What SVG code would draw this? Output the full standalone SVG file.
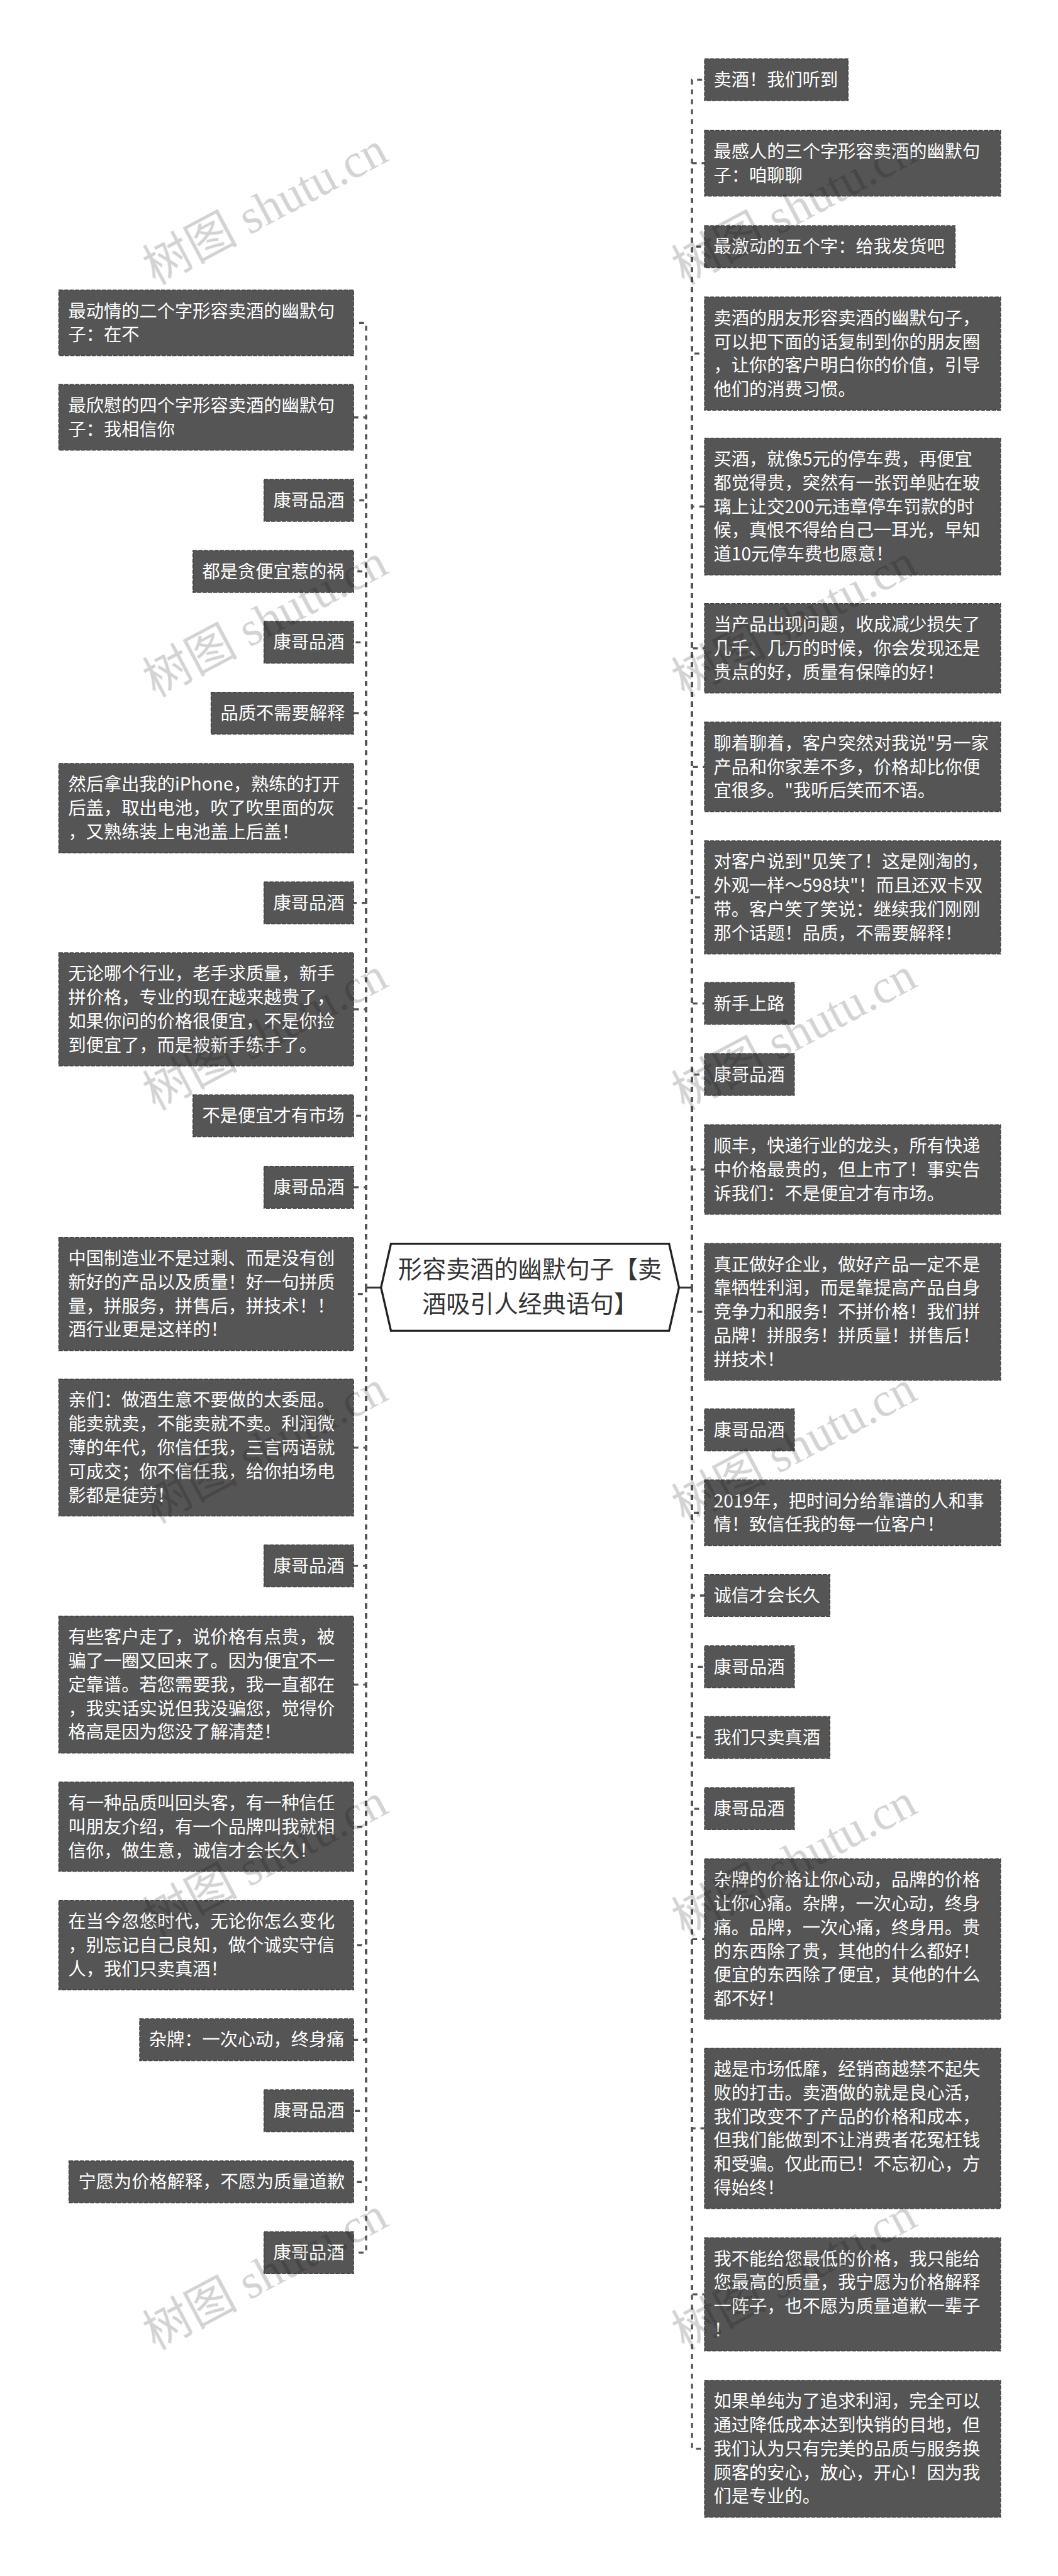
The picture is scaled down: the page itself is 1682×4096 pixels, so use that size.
<svg xmlns="http://www.w3.org/2000/svg" width="1682" height="4096" viewBox="0 0 1682 4096">
<style>
text{font-family:"Noto Sans CJK SC","Noto Sans",sans-serif}
.box{fill:#555;stroke:#444;stroke-width:2.5;stroke-dasharray:10 3}
.t{fill:#fff;font-size:43px}
.root{fill:#fff;stroke:#222;stroke-width:5}
.rt{fill:#333;font-size:58px;text-anchor:middle}
.c{fill:none;stroke:#555;stroke-width:5;stroke-dasharray:12 11.9}
.ul{stroke-dashoffset:2.5}.ur{stroke-dashoffset:4.4}.dn{stroke-dashoffset:0}
.s{fill:none;stroke:#333;stroke-width:4.5}
.wm{font-family:"Liberation Serif","Noto Sans CJK SC",serif;font-size:115px;fill:#d3d3d3}
</style>
<rect width="1682" height="4096" fill="#fff"/>
<g transform="scale(0.657)">
<g id="connectors">
<path class="s" d="M922 3116H886M1643 3116H1675"/>
<path class="c ul" d="M886 3116V781.25H855"/>
<path class="c ul" d="M886 3116V1010.25H855"/>
<path class="c ul" d="M886 3116V1211H855"/>
<path class="c ul" d="M886 3116V1383H855"/>
<path class="c ul" d="M886 3116V1554.5H855"/>
<path class="c ul" d="M886 3116V1726H855"/>
<path class="c ul" d="M886 3116V1956H855"/>
<path class="c ul" d="M886 3116V2185H855"/>
<path class="c ul" d="M886 3116V2442.75H855"/>
<path class="c ul" d="M886 3116V2700.5H855"/>
<path class="c ul" d="M886 3116V2873.5H855"/>
<path class="c dn" d="M886 3116V3131.75H855"/>
<path class="c dn" d="M886 3116V3503.5H855"/>
<path class="c dn" d="M886 3116V3789.5H855"/>
<path class="c dn" d="M886 3116V4077H855"/>
<path class="c dn" d="M886 3116V4421H855"/>
<path class="c dn" d="M886 3116V4707.5H855"/>
<path class="c dn" d="M886 3116V4936.5H855"/>
<path class="c dn" d="M886 3116V5108.5H855"/>
<path class="c dn" d="M886 3116V5280.5H855"/>
<path class="c dn" d="M886 3116V5452H855"/>
<path class="c ur" d="M1674.5 3116V193H1705"/>
<path class="c ur" d="M1674.5 3116V395.25H1705"/>
<path class="c ur" d="M1674.5 3116V597H1705"/>
<path class="c ur" d="M1674.5 3116V855.75H1705"/>
<path class="c ur" d="M1674.5 3116V1226H1705"/>
<path class="c ur" d="M1674.5 3116V1569H1705"/>
<path class="c ur" d="M1674.5 3116V1856H1705"/>
<path class="c ur" d="M1674.5 3116V2171.75H1705"/>
<path class="c ur" d="M1674.5 3116V2428.5H1705"/>
<path class="c ur" d="M1674.5 3116V2600.5H1705"/>
<path class="c ur" d="M1674.5 3116V2830.5H1705"/>
<path class="c dn" d="M1674.5 3116V3175H1705"/>
<path class="c dn" d="M1674.5 3116V3460.5H1705"/>
<path class="c dn" d="M1674.5 3116V3661.25H1705"/>
<path class="c dn" d="M1674.5 3116V3861.5H1705"/>
<path class="c dn" d="M1674.5 3116V4034H1705"/>
<path class="c dn" d="M1674.5 3116V4205H1705"/>
<path class="c dn" d="M1674.5 3116V4377.5H1705"/>
<path class="c dn" d="M1674.5 3116V4693H1705"/>
<path class="c dn" d="M1674.5 3116V5151H1705"/>
<path class="c dn" d="M1674.5 3116V5552.75H1705"/>
<path class="c dn" d="M1674.5 3116V5926.5H1705"/>
</g>
<g id="root">
<polygon class="root" points="946,3010 1619,3010 1643,3116 1619,3221 946,3221 922,3116"/>
<text class="rt" x="1282.5" y="3093">形容卖酒的幽默句子【卖</text>
<text class="rt" x="1282.5" y="3176">酒吸引人经典语句】</text>
</g>
<g id="l1"><rect class="box" x="142.5" y="702" width="713" height="158.5"/><text class="t" x="165" y="768">最动情的二个字形容卖酒的幽默句</text><text class="t" x="165" y="825.5">子：在不</text></g>
<g id="l2"><rect class="box" x="142.5" y="931" width="713" height="158.5"/><text class="t" x="165" y="997">最欣慰的四个字形容卖酒的幽默句</text><text class="t" x="165" y="1054.5">子：我相信你</text></g>
<g id="l3"><rect class="box" x="639" y="1160.5" width="216.5" height="101"/><text class="t" x="661.5" y="1226.5">康哥品酒</text></g>
<g id="l4"><rect class="box" x="467" y="1332.5" width="388.5" height="101"/><text class="t" x="489.5" y="1398.5">都是贪便宜惹的祸</text></g>
<g id="l5"><rect class="box" x="639" y="1504" width="216.5" height="101"/><text class="t" x="661.5" y="1570">康哥品酒</text></g>
<g id="l6"><rect class="box" x="511" y="1675.5" width="344.5" height="101"/><text class="t" x="533.5" y="1741.5">品质不需要解释</text></g>
<g id="l7"><rect class="box" x="142.5" y="1848" width="713" height="216"/><text class="t" x="165" y="1914">然后拿出我的iPhone，熟练的打开</text><text class="t" x="165" y="1971.5">后盖，取出电池，吹了吹里面的灰</text><text class="t" x="165" y="2029">，又熟练装上电池盖上后盖！</text></g>
<g id="l8"><rect class="box" x="639" y="2134.5" width="216.5" height="101"/><text class="t" x="661.5" y="2200.5">康哥品酒</text></g>
<g id="l9"><rect class="box" x="142.5" y="2306" width="713" height="273.5"/><text class="t" x="165" y="2372">无论哪个行业，老手求质量，新手</text><text class="t" x="165" y="2429.5">拼价格，专业的现在越来越贵了，</text><text class="t" x="165" y="2487">如果你问的价格很便宜，不是你捡</text><text class="t" x="165" y="2544.5">到便宜了，而是被新手练手了。</text></g>
<g id="l10"><rect class="box" x="467" y="2650" width="388.5" height="101"/><text class="t" x="489.5" y="2716">不是便宜才有市场</text></g>
<g id="l11"><rect class="box" x="639" y="2823" width="216.5" height="101"/><text class="t" x="661.5" y="2889">康哥品酒</text></g>
<g id="l12"><rect class="box" x="142.5" y="2995" width="713" height="273.5"/><text class="t" x="165" y="3061">中国制造业不是过剩、而是没有创</text><text class="t" x="165" y="3118.5">新好的产品以及质量！好一句拼质</text><text class="t" x="165" y="3176">量，拼服务，拼售后，拼技术！！</text><text class="t" x="165" y="3233.5">酒行业更是这样的！</text></g>
<g id="l13"><rect class="box" x="142.5" y="3338" width="713" height="331"/><text class="t" x="165" y="3404">亲们：做酒生意不要做的太委屈。</text><text class="t" x="165" y="3461.5">能卖就卖，不能卖就不卖。利润微</text><text class="t" x="165" y="3519">薄的年代，你信任我，三言两语就</text><text class="t" x="165" y="3576.5">可成交；你不信任我，给你拍场电</text><text class="t" x="165" y="3634">影都是徒劳！</text></g>
<g id="l14"><rect class="box" x="639" y="3739" width="216.5" height="101"/><text class="t" x="661.5" y="3805">康哥品酒</text></g>
<g id="l15"><rect class="box" x="142.5" y="3911.5" width="713" height="331"/><text class="t" x="165" y="3977.5">有些客户走了，说价格有点贵，被</text><text class="t" x="165" y="4035">骗了一圈又回来了。因为便宜不一</text><text class="t" x="165" y="4092.5">定靠谱。若您需要我，我一直都在</text><text class="t" x="165" y="4150">，我实话实说但我没骗您，觉得价</text><text class="t" x="165" y="4207.5">格高是因为您没了解清楚！</text></g>
<g id="l16"><rect class="box" x="142.5" y="4313" width="713" height="216"/><text class="t" x="165" y="4379">有一种品质叫回头客，有一种信任</text><text class="t" x="165" y="4436.5">叫朋友介绍，有一个品牌叫我就相</text><text class="t" x="165" y="4494">信你，做生意，诚信才会长久！</text></g>
<g id="l17"><rect class="box" x="142.5" y="4599.5" width="713" height="216"/><text class="t" x="165" y="4665.5">在当今忽悠时代，无论你怎么变化</text><text class="t" x="165" y="4723">，别忘记自己良知，做个诚实守信</text><text class="t" x="165" y="4780.5">人，我们只卖真酒！</text></g>
<g id="l18"><rect class="box" x="338" y="4886" width="517.5" height="101"/><text class="t" x="360.5" y="4952">杂牌：一次心动，终身痛</text></g>
<g id="l19"><rect class="box" x="639" y="5058" width="216.5" height="101"/><text class="t" x="661.5" y="5124">康哥品酒</text></g>
<g id="l20"><rect class="box" x="167" y="5230" width="688.5" height="101"/><text class="t" x="189.5" y="5296">宁愿为价格解释，不愿为质量道歉</text></g>
<g id="l21"><rect class="box" x="639" y="5401.5" width="216.5" height="101"/><text class="t" x="661.5" y="5467.5">康哥品酒</text></g>
<g id="r1"><rect class="box" x="1705" y="142.5" width="347" height="101"/><text class="t" x="1727" y="208.5">卖酒！我们听到</text></g>
<g id="r2"><rect class="box" x="1705" y="316" width="716" height="158.5"/><text class="t" x="1727" y="382">最感人的三个字形容卖酒的幽默句</text><text class="t" x="1727" y="439.5">子：咱聊聊</text></g>
<g id="r3"><rect class="box" x="1705" y="546.5" width="606" height="101"/><text class="t" x="1727" y="612.5">最激动的五个字：给我发货吧</text></g>
<g id="r4"><rect class="box" x="1705" y="719" width="716" height="273.5"/><text class="t" x="1727" y="785">卖酒的朋友形容卖酒的幽默句子，</text><text class="t" x="1727" y="842.5">可以把下面的话复制到你的朋友圈</text><text class="t" x="1727" y="900">，让你的客户明白你的价值，引导</text><text class="t" x="1727" y="957.5">他们的消费习惯。</text></g>
<g id="r5"><rect class="box" x="1705" y="1060.5" width="716" height="331"/><text class="t" x="1727" y="1126.5">买酒，就像5元的停车费，再便宜</text><text class="t" x="1727" y="1184">都觉得贵，突然有一张罚单贴在玻</text><text class="t" x="1727" y="1241.5">璃上让交200元违章停车罚款的时</text><text class="t" x="1727" y="1299">候，真恨不得给自己一耳光，早知</text><text class="t" x="1727" y="1356.5">道10元停车费也愿意！</text></g>
<g id="r6"><rect class="box" x="1705" y="1461" width="716" height="216"/><text class="t" x="1727" y="1527">当产品出现问题，收成减少损失了</text><text class="t" x="1727" y="1584.5">几千、几万的时候，你会发现还是</text><text class="t" x="1727" y="1642">贵点的好，质量有保障的好！</text></g>
<g id="r7"><rect class="box" x="1705" y="1748" width="716" height="216"/><text class="t" x="1727" y="1814">聊着聊着，客户突然对我说"另一家</text><text class="t" x="1727" y="1871.5">产品和你家差不多，价格却比你便</text><text class="t" x="1727" y="1929">宜很多。"我听后笑而不语。</text></g>
<g id="r8"><rect class="box" x="1705" y="2035" width="716" height="273.5"/><text class="t" x="1727" y="2101">对客户说到"见笑了！这是刚淘的，</text><text class="t" x="1727" y="2158.5">外观一样～598块"！而且还双卡双</text><text class="t" x="1727" y="2216">带。客户笑了笑说：继续我们刚刚</text><text class="t" x="1727" y="2273.5">那个话题！品质，不需要解释！</text></g>
<g id="r9"><rect class="box" x="1705" y="2378" width="217" height="101"/><text class="t" x="1727" y="2444">新手上路</text></g>
<g id="r10"><rect class="box" x="1705" y="2550" width="217" height="101"/><text class="t" x="1727" y="2616">康哥品酒</text></g>
<g id="r11"><rect class="box" x="1705" y="2722.5" width="716" height="216"/><text class="t" x="1727" y="2788.5">顺丰，快递行业的龙头，所有快递</text><text class="t" x="1727" y="2846">中价格最贵的，但上市了！事实告</text><text class="t" x="1727" y="2903.5">诉我们：不是便宜才有市场。</text></g>
<g id="r12"><rect class="box" x="1705" y="3009.5" width="716" height="331"/><text class="t" x="1727" y="3075.5">真正做好企业，做好产品一定不是</text><text class="t" x="1727" y="3133">靠牺牲利润，而是靠提高产品自身</text><text class="t" x="1727" y="3190.5">竞争力和服务！不拼价格！我们拼</text><text class="t" x="1727" y="3248">品牌！拼服务！拼质量！拼售后！</text><text class="t" x="1727" y="3305.5">拼技术！</text></g>
<g id="r13"><rect class="box" x="1705" y="3410" width="217" height="101"/><text class="t" x="1727" y="3476">康哥品酒</text></g>
<g id="r14"><rect class="box" x="1705" y="3582" width="716" height="158.5"/><text class="t" x="1727" y="3648">2019年，把时间分给靠谱的人和事</text><text class="t" x="1727" y="3705.5">情！致信任我的每一位客户！</text></g>
<g id="r15"><rect class="box" x="1705" y="3811" width="303" height="101"/><text class="t" x="1727" y="3877">诚信才会长久</text></g>
<g id="r16"><rect class="box" x="1705" y="3983.5" width="217" height="101"/><text class="t" x="1727" y="4049.5">康哥品酒</text></g>
<g id="r17"><rect class="box" x="1705" y="4154.5" width="303" height="101"/><text class="t" x="1727" y="4220.5">我们只卖真酒</text></g>
<g id="r18"><rect class="box" x="1705" y="4327" width="217" height="101"/><text class="t" x="1727" y="4393">康哥品酒</text></g>
<g id="r19"><rect class="box" x="1705" y="4499" width="716" height="388"/><text class="t" x="1727" y="4565">杂牌的价格让你心动，品牌的价格</text><text class="t" x="1727" y="4622.5">让你心痛。杂牌，一次心动，终身</text><text class="t" x="1727" y="4680">痛。品牌，一次心痛，终身用。贵</text><text class="t" x="1727" y="4737.5">的东西除了贵，其他的什么都好！</text><text class="t" x="1727" y="4795">便宜的东西除了便宜，其他的什么</text><text class="t" x="1727" y="4852.5">都不好！</text></g>
<g id="r20"><rect class="box" x="1705" y="4957" width="716" height="388"/><text class="t" x="1727" y="5023">越是市场低靡，经销商越禁不起失</text><text class="t" x="1727" y="5080.5">败的打击。卖酒做的就是良心活，</text><text class="t" x="1727" y="5138">我们改变不了产品的价格和成本，</text><text class="t" x="1727" y="5195.5">但我们能做到不让消费者花冤枉钱</text><text class="t" x="1727" y="5253">和受骗。仅此而已！不忘初心，方</text><text class="t" x="1727" y="5310.5">得始终！</text></g>
<g id="r21"><rect class="box" x="1705" y="5416" width="716" height="273.5"/><text class="t" x="1727" y="5482">我不能给您最低的价格，我只能给</text><text class="t" x="1727" y="5539.5">您最高的质量，我宁愿为价格解释</text><text class="t" x="1727" y="5597">一阵子，也不愿为质量道歉一辈子</text><text class="t" x="1727" y="5654.5">！</text></g>
<g id="r22"><rect class="box" x="1705" y="5761" width="716" height="331"/><text class="t" x="1727" y="5827">如果单纯为了追求利润，完全可以</text><text class="t" x="1727" y="5884.5">通过降低成本达到快销的目地，但</text><text class="t" x="1727" y="5942">我们认为只有完美的品质与服务换</text><text class="t" x="1727" y="5999.5">顾客的安心，放心，开心！因为我</text><text class="t" x="1727" y="6057">们是专业的。</text></g>
<g id="watermarks" style="mix-blend-mode:multiply">
<text class="wm" transform="translate(375 690) rotate(-28)">树图 shutu.cn</text>
<text class="wm" transform="translate(375 1688) rotate(-28)">树图 shutu.cn</text>
<text class="wm" transform="translate(375 2688) rotate(-28)">树图 shutu.cn</text>
<text class="wm" transform="translate(375 3688) rotate(-28)">树图 shutu.cn</text>
<text class="wm" transform="translate(375 4688) rotate(-28)">树图 shutu.cn</text>
<text class="wm" transform="translate(375 5688) rotate(-28)">树图 shutu.cn</text>
<text class="wm" transform="translate(1655 690) rotate(-28)">树图 shutu.cn</text>
<text class="wm" transform="translate(1655 1688) rotate(-28)">树图 shutu.cn</text>
<text class="wm" transform="translate(1655 2688) rotate(-28)">树图 shutu.cn</text>
<text class="wm" transform="translate(1655 3688) rotate(-28)">树图 shutu.cn</text>
<text class="wm" transform="translate(1655 4688) rotate(-28)">树图 shutu.cn</text>
<text class="wm" transform="translate(1655 5688) rotate(-28)">树图 shutu.cn</text>
</g>
</g>
</svg>
